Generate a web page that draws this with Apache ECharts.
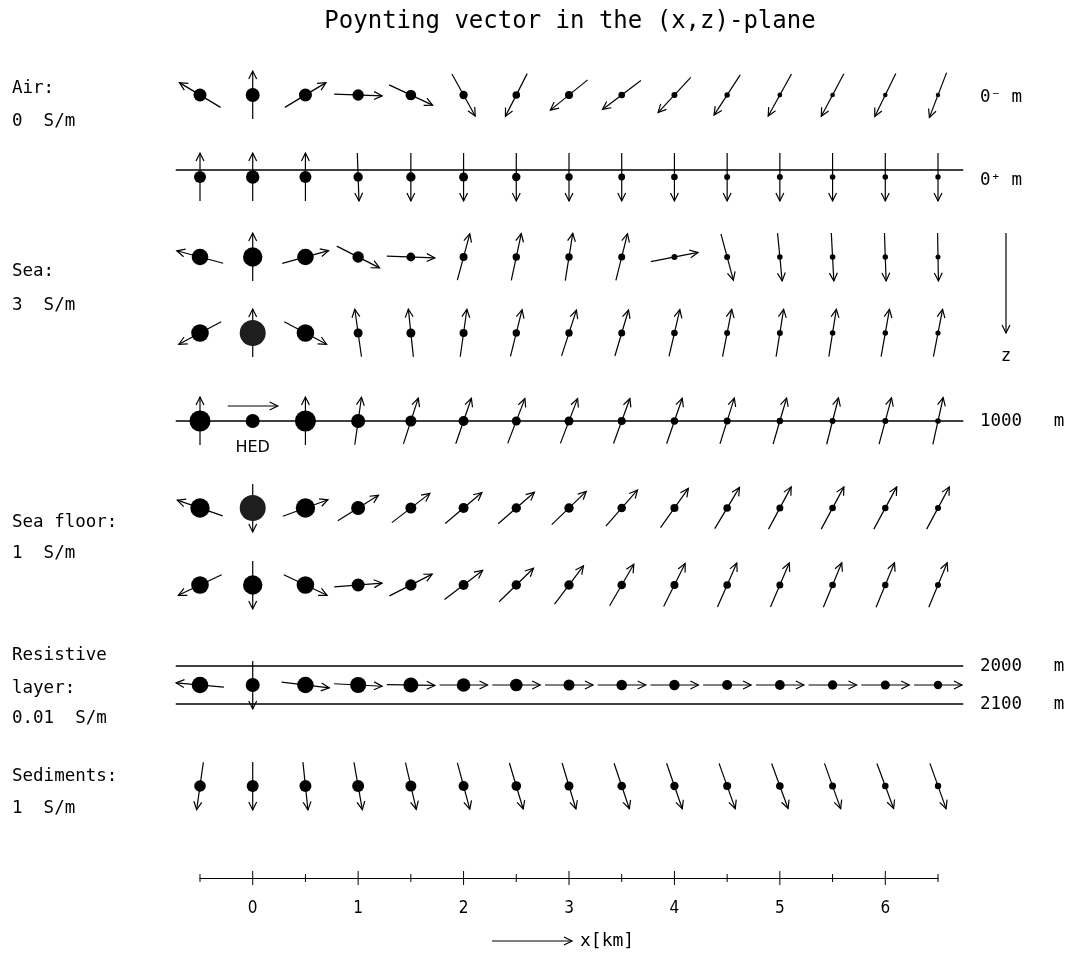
<!DOCTYPE html>
<html><head><meta charset="utf-8">
<script src="https://cdn.jsdelivr.net/npm/echarts@6/dist/echarts.min.js"></script>
<style>html,body{margin:0;padding:0;background:#fff}#c{width:1078px;height:957px}</style>
</head><body><div id="c"></div>
<script>
// ---------- data ----------
const xKm = [-0.5, 0, 0.5, 1, 1.5, 2, 2.5, 3, 3.5, 4, 4.5, 5, 5.5, 6, 6.5];
const tickLabels = ['0', '1', '2', '3', '4', '5', '6'];
// direction of Poynting vector (degrees, counter-clockwise from +x, z downward) per row
const angAir0m   = [149, 90, 31, -2, -25, -61, -117, -141, -143, -133, -123, -119, -118, -116, -111];
const angSurf0p  = [90, 90, 90, -88, -90, -90, -90, -90, -90, -90, -90, -90, -90, -90, -90];
const angSeaA    = [165, 90, 15.5, -27, -2, 75, 78, 81, 76, 11, -75, -84.5, -87, -88, -89];
const angSeaB    = [208, 90, -28, 98, 96, 82, 76, 72, 73.5, 77, 79, 81, 81, 80, 79];
const angSea1000 = [90, '-', 90, 82, 72, 71, 69, 69, 70, 71, 72.6, 73.7, 75.7, 75, 77.6];
const angFloorA  = [161, -90, 20, 32, 37.6, 40, 41, 44, 48.7, 54.5, 59, 61.8, 61.8, 61.5, 61.8];
const angFloorB  = [205.5, -90, -25.5, 4.7, 27, 37.4, 44.4, 53, 59.7, 63.4, 66.3, 67, 67.4, 67.4, 67.4];
const angResist  = [175, -90, -7, -3, -1, 0, 0, 0, 0, 0, 0, 0, 0, 0, 0];
const angSed     = [-98, -90, -84, -80, -77, -75, -73.3, -73.3, -71.4, -71, -70.3, -70, -70.3, -69.6, -70.3];
// relative magnitude (dot size) per row
const magAir0m   = [6.5, 7, 6.5, 5.7, 5.3, 4.2, 3.8, 4, 3.3, 3, 2.7, 2.4, 2.3, 2.3, 2.2];
const magSurf0p  = [6, 6.7, 6, 4.7, 4.7, 4.5, 4.2, 3.7, 3.4, 3.3, 3, 3, 2.8, 2.8, 2.7];
const magSeaA    = [8.3, 9.7, 8.3, 5.7, 4.4, 4, 3.7, 3.7, 3.5, 3, 3, 2.8, 2.8, 2.7, 2.5];
const magSeaB    = [8.8, 13, 8.8, 4.5, 4.5, 4, 3.7, 3.7, 3.5, 3.3, 3, 3, 2.8, 2.7, 2.6];
const magSea1000 = [10.5, 7, 10.5, 7, 5.5, 5, 4.5, 4.5, 4, 3.7, 3.5, 3.2, 3, 3, 2.8];
const magFloorA  = [9.7, 13, 9.7, 7, 5.5, 5, 4.7, 4.7, 4.3, 4, 3.8, 3.5, 3.3, 3.2, 3];
const magFloorB  = [8.8, 9.7, 8.8, 6.5, 5.7, 5, 4.7, 4.7, 4.3, 4, 3.8, 3.5, 3.3, 3.2, 3];
const magResist  = [8.3, 7, 8.3, 8, 7.5, 6.8, 6.3, 5.5, 5.3, 5.2, 5, 4.9, 4.7, 4.5, 4.2];
const magSed     = [5.8, 6, 6, 6, 5.5, 5, 4.8, 4.5, 4.3, 4.2, 4, 3.8, 3.5, 3.3, 3.2];

// ---------- layout (vertical plotting levels, in layout units = px) ----------
const rows = [
  {ang: angAir0m,   mag: magAir0m,   level: 95},
  {ang: angSurf0p,  mag: magSurf0p,  level: 177},
  {ang: angSeaA,    mag: magSeaA,    level: 257},
  {ang: angSeaB,    mag: magSeaB,    level: 333},
  {ang: angSea1000, mag: magSea1000, level: 421},
  {ang: angFloorA,  mag: magFloorA,  level: 508},
  {ang: angFloorB,  mag: magFloorB,  level: 585},
  {ang: angResist,  mag: magResist,  level: 685},
  {ang: angSed,     mag: magSed,     level: 786}
];
const interfaces = [170, 421, 666, 704];
const LINE_X0 = -0.73, LINE_X1 = 6.74;
const AXIS_LEVEL = 878;
const ARROW_LEN = 48, HEAD_LEN = 9, HEAD_ANG = 26 * Math.PI / 180, LW = 1.2;

function arrowShapes(tail, head, lw) {
  const back = Math.atan2(tail[1] - head[1], tail[0] - head[0]);
  const p1 = [head[0] + HEAD_LEN * Math.cos(back + HEAD_ANG), head[1] + HEAD_LEN * Math.sin(back + HEAD_ANG)];
  const p2 = [head[0] + HEAD_LEN * Math.cos(back - HEAD_ANG), head[1] + HEAD_LEN * Math.sin(back - HEAD_ANG)];
  return [
    {type: 'line', shape: {x1: tail[0], y1: tail[1], x2: head[0], y2: head[1]}, style: {stroke: '#000', lineWidth: lw}},
    {type: 'polyline', shape: {points: [p1, head, p2]}, style: {stroke: '#000', fill: null, lineWidth: lw}}
  ];
}

function renderVec(params, api) {
  const c = api.coord([api.value(0), api.value(1)]);
  const ang = api.value(2), r = api.value(3);
  const children = [];
  if (!isNaN(ang)) {
    const a = ang * Math.PI / 180;
    const dx = Math.cos(a) * ARROW_LEN / 2, dy = -Math.sin(a) * ARROW_LEN / 2;
    children.push(...arrowShapes([c[0] - dx, c[1] - dy], [c[0] + dx, c[1] + dy], LW));
  }
  children.push({type: 'circle', shape: {cx: c[0], cy: c[1], r: r}, style: {fill: r >= 12 ? '#1e1e1e' : '#000'}});
  return {type: 'group', children};
}

const series = [];
// interface lines
series.push({
  type: 'custom', silent: true, z: 1,
  data: interfaces.map(l => [LINE_X0, l, LINE_X1]),
  renderItem(params, api) {
    const a = api.coord([api.value(0), api.value(1)]);
    const b = api.coord([api.value(2), api.value(1)]);
    return {type: 'line', shape: {x1: a[0], y1: a[1], x2: b[0], y2: b[1]}, style: {stroke: '#000', lineWidth: 1.5}};
  }
});
rows.forEach(row => {
  series.push({
    type: 'custom', silent: true, z: 3,
    data: xKm.map((x, i) => [x, row.level, row.ang[i], row.mag[i]]),
    renderItem: renderVec
  });
});
// HED source symbol
series.push({
  type: 'custom', silent: true, z: 3,
  data: [[0, 421]],
  renderItem(params, api) {
    const c = api.coord([api.value(0), api.value(1)]);
    const ch = arrowShapes([c[0] - 25, c[1] - 15], [c[0] + 25, c[1] - 15], LW);
    ch.push({type: 'text', style: {text: 'HED', x: c[0], y: c[1] + 27, align: 'center', verticalAlign: 'middle', font: '16px "DejaVu Sans"', fill: '#000'}});
    return {type: 'group', children: ch};
  }
});
// axis ticks crossing the axis line
series.push({
  type: 'custom', silent: true, z: 3,
  data: xKm.map(x => [x, AXIS_LEVEL]),
  renderItem(params, api) {
    const x = api.value(0);
    const c = api.coord([x, api.value(1)]);
    const h = Number.isInteger(x) ? 7 : 4;
    return {type: 'line', shape: {x1: c[0], y1: c[1] - h, x2: c[0], y2: c[1] + h}, style: {stroke: '#000', lineWidth: 1}};
  }
});

const MONO = '"DejaVu Sans Mono"';
function txt(text, x, y, size, align) {
  return {type: 'text', x: x, y: y, style: {text: text, font: size + 'px ' + MONO, fill: '#000', align: align || 'left', verticalAlign: 'middle'}};
}
const graphics = [
  txt('Poynting vector in the (x,z)-plane', 570, 22, 24, 'center'),
  txt('Air:', 12, 88, 17.5), txt('0  S/m', 12, 121, 17.5),
  txt('Sea:', 12, 271, 17.5), txt('3  S/m', 12, 305, 17.5),
  txt('Sea floor:', 12, 522, 17.5), txt('1  S/m', 12, 553, 17.5),
  txt('Resistive', 12, 655, 17.5), txt('layer:', 12, 688, 17.5), txt('0.01  S/m', 12, 718, 17.5),
  txt('Sediments:', 12, 776, 17.5), txt('1  S/m', 12, 808, 17.5),
  txt('0\u207B m', 980, 97, 17.5), txt('0\u207A m', 980, 180, 17.5),
  txt('1000   m', 980, 421, 17.5), txt('2000   m', 980, 666, 17.5), txt('2100   m', 980, 704, 17.5),
  txt('z', 1006, 356, 17.5, 'center'),
  txt('x[km]', 580, 941, 18),
  {type: 'group', children: arrowShapes([1006, 233], [1006, 333], LW)},
  {type: 'group', children: arrowShapes([492, 941], [572, 941], LW)}
];

const chart = echarts.init(document.getElementById('c'), null, {renderer: 'canvas'});
chart.setOption({
  animation: false,
  backgroundColor: '#fff',
  grid: {left: 200, right: 140, top: 0, height: AXIS_LEVEL},
  xAxis: {
    type: 'value', min: -0.5, max: 6.5, interval: 0.5,
    axisLine: {show: true, onZero: false, lineStyle: {color: '#000', width: 1.2}},
    axisTick: {show: false}, splitLine: {show: false},
    axisLabel: {
      margin: 22, color: '#000', fontSize: 17, fontFamily: '"DejaVu Sans Condensed", "DejaVu Sans"',
      formatter: v => Number.isInteger(v) && v >= 0 ? tickLabels[v] : ''
    }
  },
  yAxis: {type: 'value', inverse: true, min: 0, max: AXIS_LEVEL, show: false},
  graphic: graphics,
  series: series
});
</script></body></html>
